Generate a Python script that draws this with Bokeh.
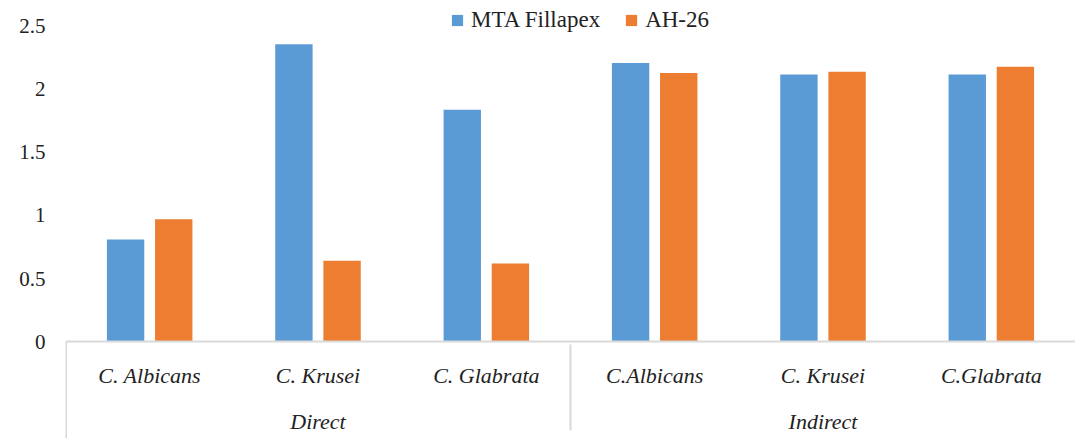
from bokeh.plotting import figure
from bokeh.models import FactorRange, ColumnDataSource, Legend, LegendItem, FixedTicker, CategoricalAxis
from bokeh.transform import dodge
from bokeh.embed import file_html
from bokeh.resources import INLINE

groups = ["Direct", "Indirect"]
species = [["C. Albicans", "C. Krusei", "C. Glabrata"],
           ["C.Albicans", "C. Krusei", "C.Glabrata"]]
series_names = ["MTA Fillapex", "AH-26"]
mta_fillapex = [0.81, 2.36, 1.84, 2.21, 2.12, 2.12]
ah_26 = [0.97, 0.64, 0.62, 2.13, 2.14, 2.18]
y_ticks = [0, 0.5, 1, 1.5, 2, 2.5]
y_tick_labels = ["0", "0.5", "1", "1.5", "2", "2.5"]

colors = ["#5B9BD5", "#ED7D31"]
FONT = "Liberation Serif"
TXT = "#222222"
RULE = "#D9D9D9"

factors = [(g, s) for g, names in zip(groups, species) for s in names]
source = ColumnDataSource(dict(x=factors, mta=mta_fillapex, ah=ah_26))

W, H = 1075, 438
y_lo, y_hi = -0.7698, 2.7063

x_range = FactorRange(*factors, range_padding=0, factor_padding=0, group_padding=0)
p = figure(x_range=x_range, y_range=(y_lo, y_hi), width=W, height=H,
           output_backend="svg", toolbar_location=None, x_axis_location=None,
           min_border_left=65, min_border_right=0, min_border_top=0, min_border_bottom=0)

r1 = p.vbar(x=dodge("x", -0.143, range=x_range), top="mta", width=0.222, source=source,
            fill_color=colors[0], line_color=None)
r2 = p.vbar(x=dodge("x", 0.143, range=x_range), top="ah", width=0.222, source=source,
            fill_color=colors[1], line_color=None)

# left edge rule of the category axis (below zero)
p.segment(x0=[0], y0=[0], x1=[0], y1=[y_lo], line_color=RULE, line_width=3)

legend = Legend(items=[LegendItem(label=series_names[0], renderers=[r1]),
                       LegendItem(label=series_names[1], renderers=[r2])],
                orientation="horizontal", location=(385, 405),
                label_text_font=FONT, label_text_font_size="23px", label_text_color=TXT,
                glyph_width=14, glyph_height=14, spacing=24, padding=2, margin=0,
                label_standoff=7, border_line_color=None, background_fill_alpha=0)
p.add_layout(legend, "center")

p.xgrid.visible = False
p.ygrid.visible = False
p.outline_line_color = None

ya = p.yaxis[0]
ya.ticker = FixedTicker(ticks=y_ticks)
ya.major_label_overrides = {t: l for t, l in zip(y_ticks, y_tick_labels)}
ya.axis_line_color = None
ya.major_tick_line_color = None
ya.minor_tick_line_color = None
ya.major_tick_out = 0
ya.major_label_standoff = 20
ya.major_label_text_font = FONT
ya.major_label_text_font_size = "21px"
ya.major_label_text_color = TXT

# axis A: baseline rule + species labels
xa = CategoricalAxis(fixed_location=0)
xa.axis_line_color = RULE
xa.axis_line_width = 2
xa.major_tick_line_color = None
xa.minor_tick_line_color = None
xa.major_tick_out = 0
xa.major_label_standoff = 21
xa.major_label_text_font = FONT
xa.major_label_text_font_size = "22px"
xa.major_label_text_font_style = "italic"
xa.major_label_text_color = TXT
xa.group_text_font = FONT
xa.group_text_font_size = "22px"
xa.group_text_color = None
xa.separator_line_color = None
p.add_layout(xa, "below")

# axis B: group labels and separators
xb = CategoricalAxis(fixed_location=0)
xb.axis_line_color = None
xb.major_tick_line_color = None
xb.minor_tick_line_color = None
xb.major_tick_out = 0
xb.major_label_standoff = 67
xb.major_label_text_font = FONT
xb.major_label_text_font_size = "22px"
xb.major_label_text_font_style = "italic"
xb.major_label_text_alpha = 0
xb.group_text_font = FONT
xb.group_text_font_size = "22px"
xb.group_text_font_style = "italic"
xb.group_text_color = TXT
xb.separator_line_color = RULE
xb.separator_line_width = 2
p.add_layout(xb, "below")

open("out.html", "w").write(file_html(p, INLINE))
